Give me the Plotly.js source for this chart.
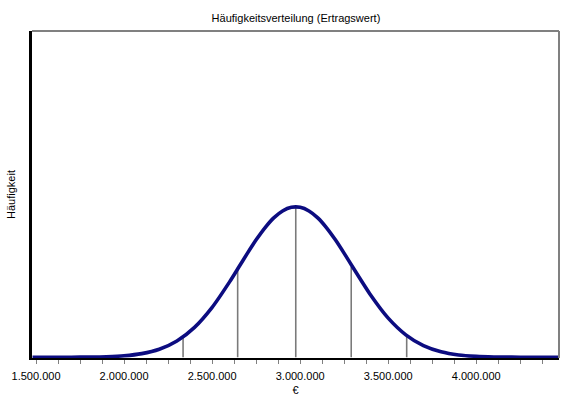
<!DOCTYPE html>
<html>
<head>
<meta charset="utf-8">
<script src="https://cdn.plot.ly/plotly-3.0.1.min.js"></script>
<style>html,body{margin:0;padding:0;background:#fff}#chart{width:573px;height:400px}</style>
</head>
<body>
<div id="chart"></div>
<script>
// Curve (relative frequency, peak = 1)
var curveX = [1480000, 1600000, 1700000, 1800000, 1900000, 2000000, 2100000, 2200000, 2300000, 2400000,
              2500000, 2600000, 2650000, 2700000, 2750000, 2800000, 2850000, 2900000, 2950000, 3000000,
              3050000, 3100000, 3150000, 3200000, 3250000, 3300000, 3400000, 3500000, 3600000, 3700000,
              3800000, 3900000, 4000000, 4100000, 4200000, 4300000, 4400000, 4465000];
var curveY = [0, 0.0001, 0.0004, 0.0012, 0.0036, 0.0096, 0.024, 0.053, 0.108, 0.199,
              0.332, 0.503, 0.597, 0.691, 0.781, 0.861, 0.927, 0.973, 0.997, 0.997,
              0.973, 0.927, 0.861, 0.781, 0.691, 0.597, 0.414, 0.260, 0.149, 0.077,
              0.036, 0.015, 0.006, 0.002, 0.0007, 0.0002, 0, 0];
// Marker lines (mean and ±1σ, ±2σ)
var markX = [2335000, 2645000, 2975000, 3290000, 3605000];
var markY = [0.13, 0.60, 1.0, 0.60, 0.14];

var lx = [], ly = [];
for (var i = 0; i < markX.length; i++) {
  lx.push(markX[i], markX[i], null);
  ly.push(0, markY[i], null);
}

var traces = [
  {x: lx, y: ly, mode: 'lines', line: {color: '#7a7a7a', width: 1.6}, hoverinfo: 'skip', showlegend: false},
  {x: curveX, y: curveY, mode: 'lines', line: {color: '#0c0c80', width: 3.6, shape: 'spline', smoothing: 0.6}, showlegend: false}
];

var font = {family: '"Liberation Sans", Arial, sans-serif', size: 11, color: '#000'};

var layout = {
  width: 573, height: 400,
  margin: {l: 32, r: 14, t: 31, b: 42, pad: 0},
  paper_bgcolor: '#fff', plot_bgcolor: '#fff',
  separators: ',.',
  font: font,
  showlegend: false,
  title: {text: 'Häufigkeitsverteilung (Ertragswert)', font: font, x: 0.5165, xanchor: 'center', y: 0.955, yanchor: 'middle'},
  xaxis: {
    range: [1477000, 4470000],
    tickmode: 'linear', tick0: 1500000, dtick: 500000,
    tickformat: ',d',
    ticks: 'outside', ticklen: 4, tickcolor: '#808080', tickwidth: 1,
    ticklabelstandoff: 3,
    minor: {dtick: 125000, tick0: 1500000, ticks: 'outside', ticklen: 4, tickcolor: '#808080', tickwidth: 1, showgrid: false},
    showgrid: false, zeroline: false,
    showline: true, linecolor: '#000', linewidth: 2,
    tickfont: font,
    title: {text: '€', font: font, standoff: 5}
  },
  yaxis: {
    range: [-0.005, 2.17],
    showticklabels: false, ticks: '',
    showgrid: false, zeroline: false,
    showline: true, linecolor: '#000', linewidth: 3,
    title: {text: 'Häufigkeit', font: font, standoff: 12}
  },
  shapes: [
    {type: 'line', xref: 'paper', yref: 'paper', x0: 0, x1: 1, y0: 1, y1: 1, line: {color: '#808080', width: 2}},
    {type: 'line', xref: 'paper', yref: 'paper', x0: 1, x1: 1, y0: 0, y1: 1, line: {color: '#808080', width: 2}}
  ]
};

Plotly.newPlot('chart', traces, layout, {staticPlot: true, displayModeBar: false});
</script>
</body>
</html>
